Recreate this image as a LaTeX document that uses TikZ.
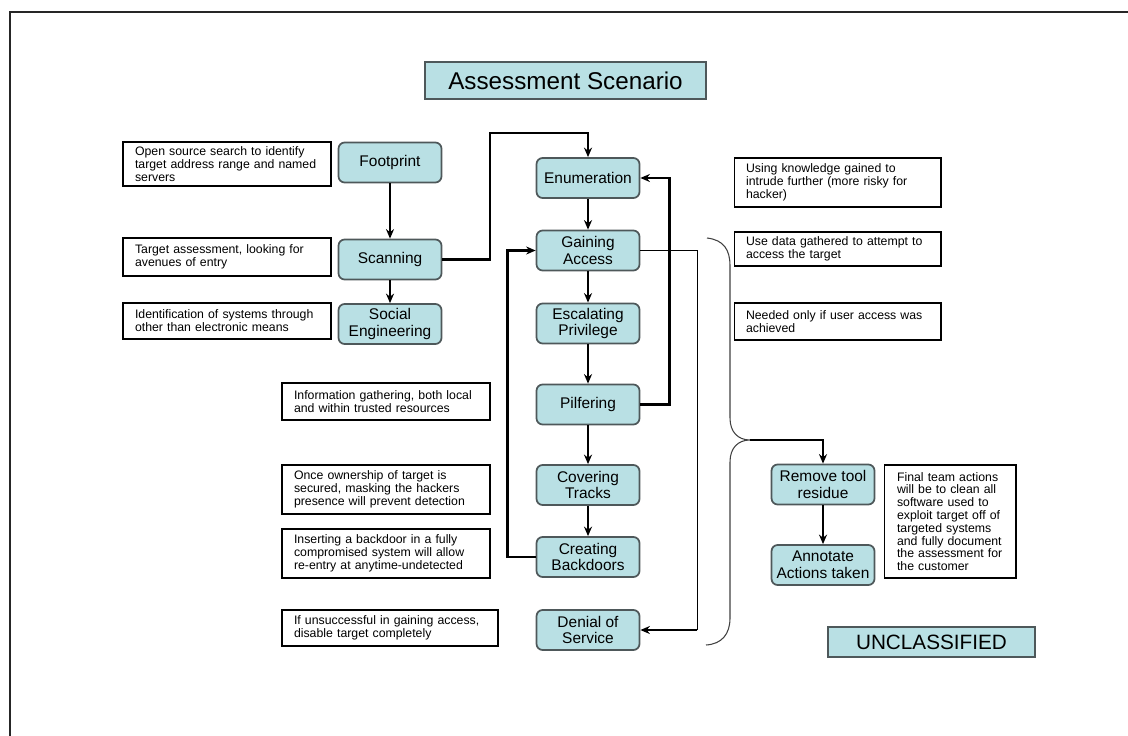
\documentclass[tikz,border=0pt]{standalone}
\usepackage{fontspec}
\setmainfont{Liberation Sans}
\usetikzlibrary{arrows.meta}
\definecolor{stepfill}{HTML}{B9E0E4}
\definecolor{stepline}{HTML}{4E585A}
\begin{document}
\begin{tikzpicture}[x=0.02cm,y=-0.02cm,
  stepbox/.style={draw=stepline, fill=stepfill, line width=1pt, rounded corners=3.5pt,
    minimum width=2.06cm, minimum height=0.8cm, inner sep=1pt, align=center,
    font=\fontsize{8.8}{9.4}\selectfont},
  note/.style={draw=black, line width=0.6pt, inner xsep=0.24cm, inner ysep=1pt,
    align=left, font=\fontsize{7}{7.3}\selectfont},
  banner/.style={draw=stepline, fill=stepfill, line width=1pt, inner sep=1pt},
  flow/.style={line width=1.6pt, -{Stealth[length=1.9mm,width=1.6mm]}},
  thinline/.style={line width=0.6pt},
  bracket/.style={line width=0.6pt, draw=black!75}
]
\useasboundingbox (0,0) rectangle (1128,736);

% page frame
\draw[line width=1.3pt, draw=black!85] (10,736) -- (10,12) -- (1128,12);

% headings
\node[banner, minimum width=5.62cm, minimum height=0.74cm,
  font=\fontsize{13.8}{16}\selectfont] (title) at (565.5,80.5) {Assessment Scenario};
\node[banner, minimum width=4.14cm, minimum height=0.6cm,
  font=\fontsize{11.8}{14}\selectfont] (class) at (931.5,642) {UNCLASSIFIED};

% phases
\node[stepbox] (foot)   at (390,162.5) {Footprint};
\node[stepbox] (scan)   at (390,259.5) {Scanning};
\node[stepbox] (social) at (390,324)   {Social\\Engineering};
\node[stepbox] (enum)   at (588,178)   {Enumeration};
\node[stepbox] (gain)   at (588,250.5) {Gaining\\Access};
\node[stepbox] (escal)  at (588,323.5) {Escalating\\Privilege};
\node[stepbox] (pilf)   at (588,404.5) {Pilfering};
\node[stepbox] (cover)  at (588,485)   {Covering\\Tracks};
\node[stepbox] (back)   at (588,557)   {Creating\\Backdoors};
\node[stepbox] (dos)    at (588,630)   {Denial of\\Service};
\node[stepbox] (remove) at (823,484.5) {Remove tool\\residue};
\node[stepbox] (annot)  at (823,565)   {Annotate\\Actions taken};

% explanations
\node[note, text width=3.68cm, minimum height=0.88cm] (n1) at (227,164)
  {Open source search to identify\\target address range and named\\servers};
\node[note, text width=3.68cm, minimum height=0.76cm] (n2) at (227,257)
  {Target assessment, looking for\\avenues of entry};
\node[note, text width=3.68cm, minimum height=0.72cm] (n3) at (227,321)
  {Identification of systems through\\other than electronic means};
\node[note, text width=3.68cm, minimum height=0.74cm] (n4) at (386,401.5)
  {Information gathering, both local\\and within trusted resources};
\node[note, text width=3.68cm, minimum height=0.98cm] (n5) at (386,489.5)
  {Once ownership of target is\\secured, masking the hackers\\presence will prevent detection};
\node[note, text width=3.68cm, minimum height=0.98cm] (n6) at (386,553.5)
  {Inserting a backdoor in a fully\\compromised system will allow\\re-entry at anytime-undetected};
\node[note, text width=3.84cm, minimum height=0.72cm] (n7) at (390,628)
  {If unsuccessful in gaining access,\\disable target completely};
\node[note, text width=3.66cm, minimum height=0.98cm] (n8) at (837.5,182.5)
  {Using knowledge gained to\\intrude further (more risky for\\hacker)};
\node[note, text width=3.66cm, minimum height=0.68cm] (n9) at (837.5,249)
  {Use data gathered to attempt to\\access the target};
\node[note, text width=3.66cm, minimum height=0.74cm] (n10) at (837.5,321.5)
  {Needed only if user access was\\achieved};
\node[note, inner xsep=0.26cm, text width=2.12cm, minimum height=2.26cm] (n11) at (950,521.5)
  {Final team actions\\will be to clean all\\software used to\\exploit target off of\\targeted systems\\and fully document\\the assessment for\\the customer};

% main flow
\coordinate (hop) at (490,133);
\draw[flow] (foot) -- (scan);
\draw[flow] (scan) -- (social);
\draw[flow] (scan.east) -| (hop) -| (enum.north);
\draw[flow] (enum) -- (gain);
\draw[flow] (gain) -- (escal);
\draw[flow] (escal) -- (pilf);
\draw[flow] (pilf) -- (cover);
\draw[flow] (cover) -- (back);

% loops back
\draw[flow] (pilf.east) -- ++(29,0) |- (enum.east);
\draw[flow] (back.west) -- ++(-28,0) |- (gain.west);

% fallback to denial of service
\path (dos.east) ++(57,0) coordinate (dosturn);
\draw[thinline] (gain.east) -| (dosturn);
\draw[flow] (dosturn) -- (dos.east);

% brace grouping the intrusion phases
\coordinate (tip) at (750,440);
\draw[bracket] (707,238) .. controls (724,240) and (730,250) .. (730,266)
  -- (730,418) .. controls (730,432) and (738,440) .. (tip)
  .. controls (738,440) and (730,448) .. (730,462)
  -- (730,618) .. controls (730,634) and (722,644) .. (706,645);

% clean-up
\draw[flow] (tip) -| (remove.north);
\draw[flow] (remove) -- (annot);
\end{tikzpicture}
\end{document}
